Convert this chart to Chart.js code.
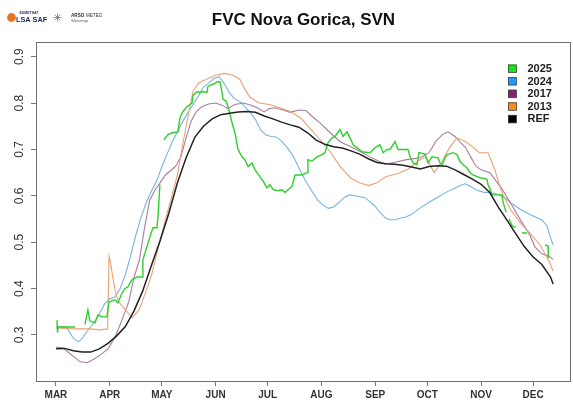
<!DOCTYPE html>
<html><head><meta charset="utf-8">
<script src="https://cdn.jsdelivr.net/npm/chart.js@4"></script>
<style>html,body{margin:0;padding:0;background:#fff}#wrap{width:573px;height:405px;position:relative}canvas{display:block}</style>
</head><body><div id="wrap"><canvas id="c" width="573" height="405"></canvas></div>
<script>
// ---- data (x = days after 1 March) ----
const monthTickDays = [0,31,61,92,122,153,184,214,245,275];
const monthLabels = ['MAR','APR','MAY','JUN','JUL','AUG','SEP','OCT','NOV','DEC'];
const yTicks = [0.3,0.4,0.5,0.6,0.7,0.8,0.9];
const seriesNames = ['2025','2024','2017','2013','REF'];

const daysRef = [0,5,10,15,20,25,30,35,40,45,50,55,60,65,70,75,80,85,90,95,100,105,110,115,120,125,130,135,140,145,150,155,160,165,170,175,180,185,190,195,200,205,210,215,220,225,230,235,240,245,250,255,260,265,270,275,280,285,286.5];
const fvcRef = [0.270,0.271,0.266,0.263,0.263,0.270,0.282,0.298,0.318,0.352,0.395,0.450,0.503,0.562,0.628,0.682,0.726,0.750,0.766,0.775,0.778,0.781,0.782,0.780,0.772,0.766,0.759,0.753,0.748,0.736,0.720,0.711,0.706,0.703,0.697,0.690,0.680,0.672,0.669,0.668,0.666,0.662,0.658,0.663,0.665,0.664,0.656,0.646,0.636,0.625,0.607,0.575,0.547,0.518,0.490,0.468,0.452,0.425,0.410];

const days2013 = [0,5,10,15,20,25,29.8,30.6,31.5,32.5,34,36,40,44,48,52,55,60,65,70,73,76,79,82,87,92,97,102,106,109,112,117,123,129,135,141,146,152,158,164,170,175,180,185,190,197,203,209,213,218,222,227,231,236,240,244,249,253,257,262,268,273,279,284,286.5];
const fvc2013 = [0.315,0.314,0.313,0.313,0.313,0.311,0.313,0.470,0.455,0.430,0.397,0.372,0.354,0.337,0.355,0.395,0.428,0.505,0.575,0.645,0.710,0.770,0.825,0.843,0.852,0.860,0.864,0.860,0.851,0.829,0.812,0.800,0.797,0.790,0.782,0.768,0.747,0.722,0.695,0.662,0.638,0.628,0.622,0.628,0.641,0.648,0.658,0.676,0.684,0.650,0.672,0.705,0.725,0.717,0.706,0.693,0.693,0.655,0.607,0.570,0.540,0.520,0.494,0.460,0.438];

const days2017 = [0,4,8,14,18,22,26,30,34,38,42,45,48,51,54,57,60,63,66,69,72,75,78,81,84,88,92,96,99,103,108,112,116,120,123,126,131,135,140,144,148,152,158,164,170,175,181,187,190,196,202,210,215,219,223,226,230,233,236,239,242,245,250,254,257,262,268,273,276,280,284,286.5];
const fvc2017 = [0.274,0.272,0.260,0.242,0.240,0.248,0.258,0.270,0.295,0.332,0.372,0.425,0.460,0.530,0.590,0.612,0.628,0.645,0.654,0.664,0.684,0.725,0.762,0.782,0.792,0.798,0.800,0.795,0.788,0.797,0.800,0.796,0.790,0.781,0.788,0.790,0.785,0.780,0.785,0.784,0.770,0.758,0.736,0.716,0.706,0.696,0.684,0.673,0.668,0.673,0.678,0.682,0.693,0.718,0.733,0.738,0.728,0.715,0.704,0.684,0.664,0.656,0.650,0.630,0.615,0.584,0.546,0.516,0.490,0.475,0.470,0.463];

const days2024 = [0,6,8,10,13,15,18,21,25,28,31,34,37,40,43,46,49,52,55,58,61,64,67,70,73,76,79,82,85,88,91,94,97,100,103,106,109,112,115,118,121,124,127,130,133,136,139,142,145,148,151,154,157,160,163,166,169,172,175,178,181,184,187,190,193,196,199,202,205,210,215,220,225,230,234,236,239,242,246,250,255,259,262,268,274,280,283,285,286.5];
const fvc2024 = [0.317,0.317,0.305,0.293,0.285,0.292,0.308,0.322,0.345,0.367,0.378,0.382,0.400,0.430,0.470,0.515,0.553,0.585,0.610,0.632,0.662,0.690,0.716,0.738,0.760,0.779,0.797,0.815,0.834,0.843,0.853,0.857,0.842,0.822,0.809,0.803,0.792,0.780,0.764,0.742,0.731,0.728,0.727,0.718,0.705,0.690,0.668,0.645,0.625,0.607,0.590,0.580,0.573,0.576,0.585,0.596,0.602,0.600,0.598,0.596,0.587,0.577,0.563,0.552,0.548,0.549,0.552,0.555,0.560,0.574,0.586,0.597,0.608,0.617,0.624,0.626,0.620,0.613,0.608,0.607,0.603,0.595,0.585,0.570,0.558,0.548,0.535,0.510,0.494];

const days2025 = [0.6,0.9,1.2,11,13,16.7,18.4,19.6,22.5,24.2,26.5,29.4,30.5,34,35.7,38,39.8,41.5,43.8,46.7,49.6,50.1,52.4,54.2,55.9,58.2,58.8,59.9,61,62.2,64.6,66.9,70.3,71.5,73.2,75.5,78.4,79,81.3,83,84.7,87,87.6,89.9,91.6,92.8,94.5,95.7,96.3,98,99.7,101.4,103.2,104.9,107.2,108.9,110.7,113,114.7,117.6,119.3,121.6,123.3,125.1,127.4,130.3,132,133.7,136,137.8,141.8,144.7,145.2,147.6,150.4,153.3,155,156.8,159.1,160.8,163.7,165.4,167.7,169.5,171.2,173.5,176.4,181,183.9,186.7,188.5,190.8,192.5,195.4,197.1,202.9,204,205.8,208.1,209.2,212.7,214.4,216.7,220.2,221.3,222.5,224.2,225.4,228.8,231.1,232.9,234.6,236.9,238.6,240.3,244.4,247.3,248.4,249,250.1,251.3,257,257.6,259.4,260.5,261.1,262.8,263.4,265.1,266.5,268.6,271.5,273,281.8,283.6,283.7];
const fvc2025 = [0.332,0.305,0.317,0.317,null,0.323,0.354,0.330,0.326,0.343,0.339,0.339,0.371,0.376,0.369,0.390,0.400,0.404,0.419,0.425,0.425,0.462,0.490,0.512,0.531,0.531,0.555,0.624,null,0.721,0.732,0.736,0.738,0.769,0.782,0.792,0.800,0.816,0.825,0.823,0.825,0.823,0.836,0.840,0.842,0.846,0.846,0.823,0.808,0.805,0.785,0.758,0.735,0.700,0.684,0.678,0.663,0.671,0.656,0.641,0.632,0.617,0.624,0.614,0.611,0.613,0.607,0.613,0.620,0.645,0.645,0.650,0.678,0.675,0.684,0.689,0.693,0.715,0.725,0.728,0.743,0.728,0.738,0.725,0.710,0.704,0.695,0.693,0.704,0.710,0.693,0.700,0.700,0.717,0.700,0.700,0.684,0.671,0.667,0.693,0.690,0.671,0.684,0.682,0.671,0.667,0.682,0.689,0.693,0.689,0.674,0.667,0.660,0.650,0.645,0.639,0.637,0.635,0.624,0.615,0.602,0.602,0.587,0.565,null,0.550,0.536,0.533,0.533,null,0.520,0.520,null,0.494,0.492,0.466];

const lineColors = ['#2fcf2f','#76b3e2','#a97c9f','#e9a273','#222222'];
const legendColors = ['#19e619','#1e9bff','#84226e','#ff8c1a','#000000'];

const pts = (d, v) => d.map((x, i) => ({x: x, y: v[i]}));
const allDays = [days2025, days2024, days2017, days2013, daysRef];
const allFvc = [fvc2025, fvc2024, fvc2017, fvc2013, fvcRef];
const widths = [1.4, 1.1, 1.1, 1.1, 1.5];

const datasets = seriesNames.map((n, i) => ({
  label: n,
  data: pts(allDays[i], allFvc[i]),
  borderColor: lineColors[i],
  borderWidth: widths[i],
  pointRadius: 0,
  fill: false,
  tension: 0,
  spanGaps: false,
  order: i === 4 ? 0 : (i === 0 ? 1 : 5 - i)
}));

const FONT = "'Liberation Sans', Arial, sans-serif";

const framePlugin = {
  id: 'frame',
  afterDraw(chart) {
    const {ctx, chartArea: a} = chart;
    ctx.save();
    ctx.strokeStyle = '#6f6f6f';
    ctx.lineWidth = 1;
    ctx.strokeRect(Math.round(a.left) + 0.5, Math.round(a.top) + 0.5, Math.round(a.right - a.left) - 1, Math.round(a.bottom - a.top));
    ctx.restore();
  }
};

const legendPlugin = {
  id: 'cornerLegend',
  afterDraw(chart) {
    const {ctx} = chart;
    ctx.save();
    const x0 = 508, y0 = 68.5, dy = 12.6;
    ctx.font = 'bold 11px ' + FONT;
    ctx.textBaseline = 'middle';
    ctx.textAlign = 'left';
    chart.data.datasets.forEach((ds, i) => {
      const y = y0 + i * dy;
      ctx.fillStyle = legendColors[i];
      ctx.fillRect(x0, y - 4, 8.5, 8);
      ctx.strokeStyle = '#444';
      ctx.lineWidth = 0.8;
      ctx.strokeRect(x0 + 0.5, y - 3.5, 8, 7.5);
      ctx.fillStyle = '#222';
      ctx.fillText(ds.label, 527.5, y + 0.5);
    });
    ctx.restore();
  }
};

const logoPlugin = {
  id: 'logos',
  afterDraw(chart) {
    const {ctx} = chart;
    ctx.save();
    ctx.textBaseline = 'alphabetic';
    ctx.textAlign = 'left';
    // LSA SAF mark
    ctx.fillStyle = '#e5731e';
    ctx.beginPath(); ctx.arc(11.5, 17.5, 4.4, 0, Math.PI * 2); ctx.fill();
    ctx.fillStyle = '#1d2b5c';
    ctx.font = 'bold 3.5px ' + FONT;
    ctx.fillText('EUMETSAT', 19.5, 13.5);
    ctx.font = 'bold 7.3px ' + FONT;
    ctx.fillText('LSA SAF', 16, 21.5);
    // small star symbol
    ctx.strokeStyle = '#666';
    ctx.lineWidth = 0.7;
    const cx = 57.5, cy = 17.5;
    for (let k = 0; k < 4; k++) {
      const ang = k * Math.PI / 4;
      ctx.beginPath();
      ctx.moveTo(cx - 4 * Math.cos(ang), cy - 4 * Math.sin(ang));
      ctx.lineTo(cx + 4 * Math.cos(ang), cy + 4 * Math.sin(ang));
      ctx.stroke();
    }
    ctx.fillStyle = '#333';
    ctx.font = 'bold 4.6px ' + FONT;
    ctx.fillText('ARSO', 71, 16.5);
    const w = ctx.measureText('ARSO ').width;
    ctx.font = '4.6px ' + FONT;
    ctx.fillText('METEO', 71 + w + 0.5, 16.5);
    ctx.fillStyle = '#555';
    ctx.font = '4.2px ' + FONT;
    ctx.fillText('Slovenija', 71, 22);
    ctx.restore();
  }
};

new Chart(document.getElementById('c').getContext('2d'), {
  type: 'line',
  data: {datasets: datasets},
  options: {
    responsive: false,
    animation: false,
    devicePixelRatio: 1,
    layout: {padding: {left: 0, right: 2, top: 0, bottom: 0}},
    plugins: {
      legend: {display: false},
      tooltip: {enabled: false},
      title: {
        display: true,
        text: 'FVC Nova Gorica, SVN',
        fullSize: false,
        color: '#111',
        font: {family: FONT, size: 17, weight: 'bold', lineHeight: 1.2},
        padding: {top: 10, bottom: 11.6}
      }
    },
    scales: {
      x: {
        type: 'linear',
        min: -11.5,
        max: 296.8,
        afterBuildTicks: s => { s.ticks = monthTickDays.map(v => ({value: v})); },
        afterFit: s => { s.height = 24; },
        ticks: {
          autoSkip: false, maxRotation: 0, minRotation: 0,
          callback: (v, i) => monthLabels[i],
          color: '#333',
          font: {family: FONT, size: 10, weight: 'bold'},
          padding: 3
        },
        grid: {drawOnChartArea: false, drawTicks: true, tickLength: 5, color: '#777', lineWidth: 1},
        border: {display: false}
      },
      y: {
        type: 'linear',
        min: 0.2007,
        max: 0.9317,
        afterBuildTicks: s => { s.ticks = yTicks.map(v => ({value: v})); },
        afterFit: s => { s.width = 36; },
        ticks: {
          minRotation: 90, maxRotation: 90,
          crossAlign: 'center',
          padding: 3,
          callback: v => Number(v).toFixed(1),
          color: '#333',
          font: {family: FONT, size: 12}
        },
        grid: {drawOnChartArea: false, drawTicks: true, tickLength: 5, color: '#777', lineWidth: 1},
        border: {display: false}
      }
    }
  },
  plugins: [framePlugin, legendPlugin, logoPlugin]
});
</script>
</body></html>
